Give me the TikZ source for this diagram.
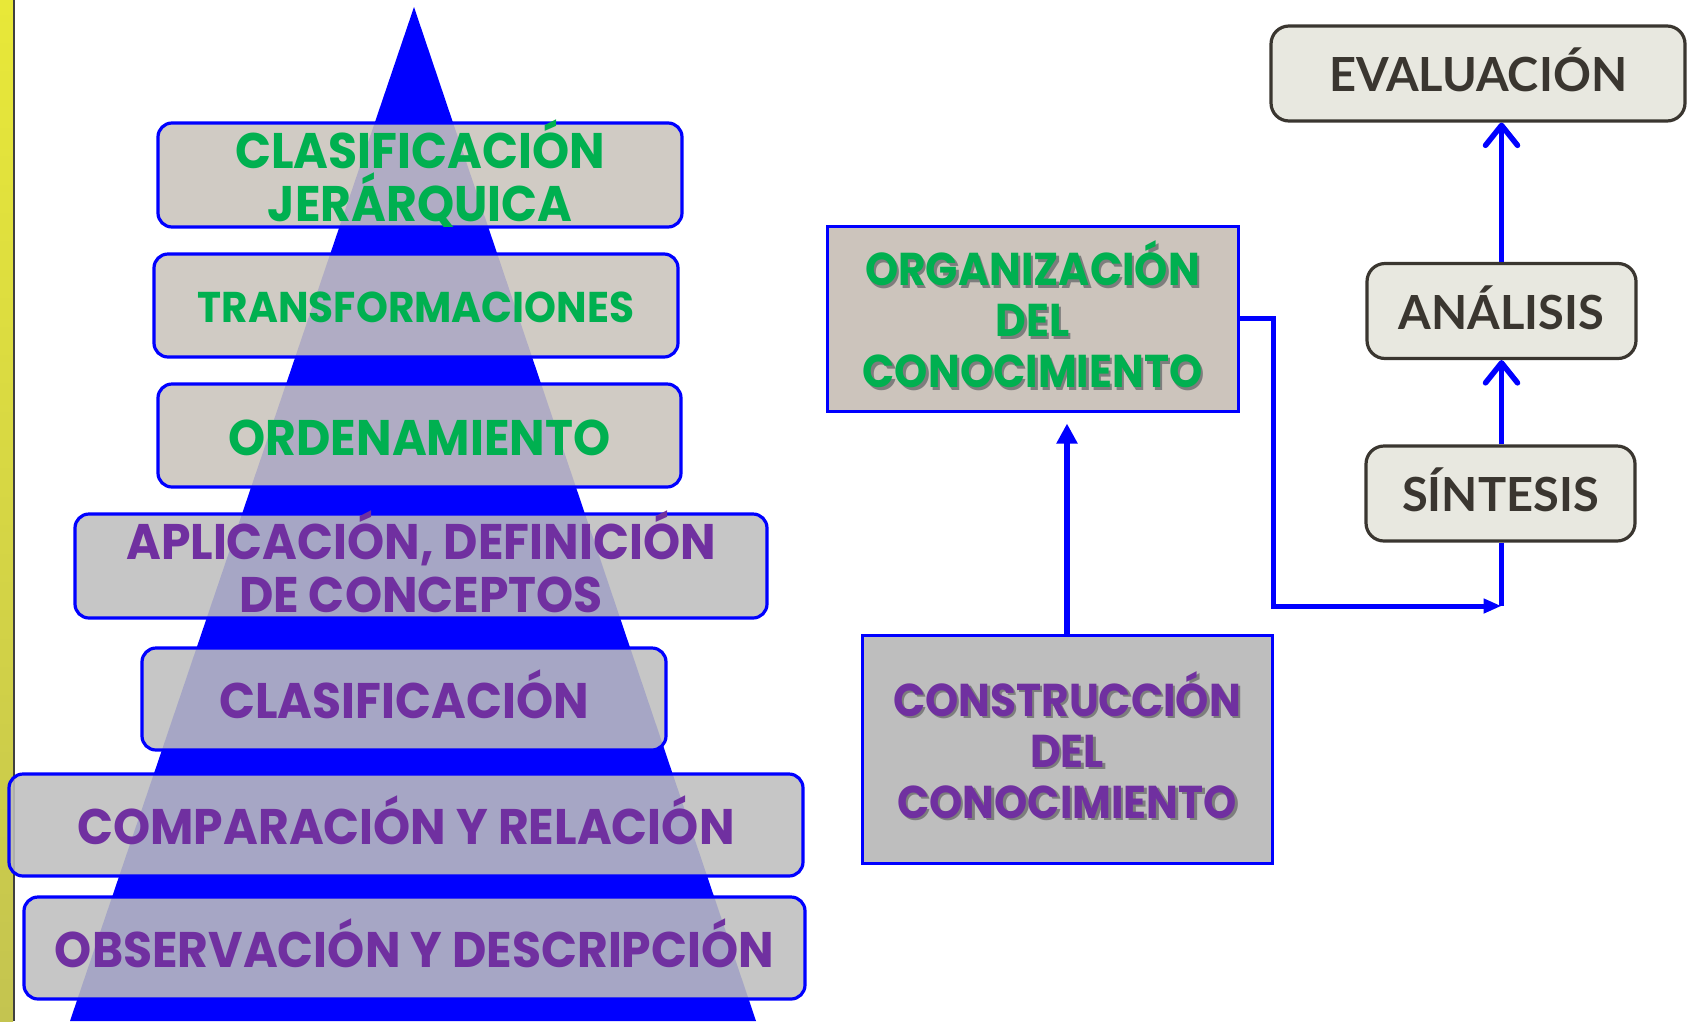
\documentclass[tikz,border=0pt]{standalone}
\usepackage{fontspec}
\usetikzlibrary{arrows.meta}

\newfontfamily\pyrfont{Poppins}[FakeStretch=0.945]
\newfontfamily\orgfont{Poppins}[FakeStretch=0.92]
\newfontfamily\gillfont{Lato}

\definecolor{lvlgreen}{RGB}{0,176,80}
\definecolor{lvlpurple}{RGB}{112,48,160}
\definecolor{beigebox}{RGB}{201,196,188}
\definecolor{graybox}{RGB}{190,190,190}
\definecolor{orgfill}{RGB}{204,196,188}
\definecolor{confill}{RGB}{190,190,190}
\definecolor{stepfill}{RGB}{232,232,224}
\definecolor{stepline}{RGB}{58,54,48}
\definecolor{shadowgray}{RGB}{125,125,125}
\definecolor{baryellow}{RGB}{232,232,56}
\definecolor{barolive}{RGB}{196,196,80}

% one line of text, same height with or without accents
\newcommand\ls[1]{\rule[-0.07em]{0pt}{0.93em}\smash{#1}}
\newcommand\shadowed[1]{\ls{\rlap{\kern2.5pt\raisebox{-2.5pt}{\textcolor{shadowgray}{#1}}}#1}}

\tikzset{every picture/.style={line width=0.75pt}}
\tikzset{
  pyrbox/.style={draw=blue, line width=3.2pt, rounded corners=14pt, fill opacity=0.88, text opacity=1,
    font=\pyrfont\bfseries\fontsize{50}{53}\selectfont, align=center, inner sep=0pt},
  knowbox/.style={draw=blue, line width=3pt, align=center, inner sep=0pt,
    font=\orgfont\bfseries\fontsize{46}{51}\selectfont},
  stepbox/.style={draw=stepline, line width=3.2pt, rounded corners=18pt, fill=stepfill, text=stepline,
    font=\gillfont\bfseries\fontsize{47}{52}\selectfont, inner sep=0pt, minimum height=95pt,
    text height=36pt, text depth=0pt},
  route/.style={draw=blue, line width=5pt},
  upopen/.style={draw=blue, line width=5.5pt, -{Straight Barb[length=20pt,width=32pt,line cap=round,line join=round]}},
}

\begin{document}
\begin{tikzpicture}[x=1pt,y=1pt,yscale=-1,xscale=1]
\useasboundingbox (0,0) rectangle (1694,1021);

%Shape: side bar
\shade[top color=baryellow, bottom color=barolive] (0,0) rectangle (13,1021);
\fill[gray!50!black] (13,0) rectangle (15,1021);

%Shape: Triangle
\fill[blue] (414,7) -- (756,1021) -- (70,1021) -- cycle;

% Pyramid levels
\node[pyrbox, fill=beigebox, text=lvlgreen, minimum width=524pt, minimum height=104pt] (jer) at (420,175) {\ls{CLASIFICACIÓN}\\\ls{JERÁRQUICA}};
\node[pyrbox, fill=beigebox, text=lvlgreen, minimum width=524pt, minimum height=103pt,
  font=\pyrfont\bfseries\fontsize{43}{46}\selectfont] (tra) at (416,305.5) {\ls{TRANSFORMACIONES}};
\node[pyrbox, fill=beigebox, text=lvlgreen, minimum width=523pt, minimum height=103pt] (ord) at (419.5,435.5) {\ls{ORDENAMIENTO}};
\node[pyrbox, fill=graybox, text=lvlpurple, minimum width=692pt, minimum height=104pt] (apl) at (421,566) {\ls{APLICACIÓN, DEFINICIÓN}\\\ls{DE CONCEPTOS}};
\node[pyrbox, fill=graybox, text=lvlpurple, minimum width=524pt, minimum height=102pt] (cla) at (404,699) {\ls{CLASIFICACIÓN}};
\node[pyrbox, fill=graybox, text=lvlpurple, minimum width=794pt, minimum height=102pt] (com) at (406,825) {\ls{COMPARACIÓN Y RELACIÓN}};
\node[pyrbox, fill=graybox, text=lvlpurple, minimum width=781pt, minimum height=102pt] (obs) at (414.5,948) {\ls{OBSERVACIÓN Y DESCRIPCIÓN}};

% Knowledge boxes
\node[knowbox, fill=orgfill, text=lvlgreen, minimum width=411pt, minimum height=185pt] (org) at (1032.5,318.5)
  {\shadowed{ORGANIZACIÓN}\\\shadowed{DEL}\\\shadowed{CONOCIMIENTO}};
\node[knowbox, fill=confill, text=lvlpurple, minimum width=410pt, minimum height=228pt] (con) at (1067,749)
  {\shadowed{CONSTRUCCIÓN}\\\shadowed{DEL}\\\shadowed{CONOCIMIENTO}};

% Steps
\node[stepbox, minimum width=414pt] (eva) at (1478,73.5) {EVALUACIÓN};
\node[stepbox, minimum width=269pt] (ana) at (1501.5,311) {ANÁLISIS};
\node[stepbox, minimum width=269pt] (sin) at (1500.5,493.5) {SÍNTESIS};

% Connectors
\coordinate (join) at (ana.south |- 0,606);
\draw[blue, line width=5.5pt, -{Triangle[length=20pt,width=20pt]}] (con.north) -- ([yshift=11pt]org.south -| con.north);
\draw[route, -{Triangle[length=18pt,width=14pt]}] (org.east) -- ++(34,0) |- (join);
\draw[route] (sin.south -| join) -- (join);
\draw[upopen] (sin.north -| ana.south) -- (ana.south);
\draw[upopen] (ana.north) -- (ana.north |- eva.south);

\end{tikzpicture}
\end{document}
